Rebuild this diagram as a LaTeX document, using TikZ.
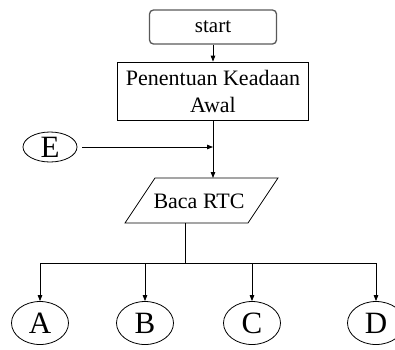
\documentclass[tikz,border=0pt]{standalone}
\usepackage{fontspec}
\setmainfont{Liberation Serif}
\usetikzlibrary{arrows.meta,shapes.geometric}
\begin{document}
\begin{tikzpicture}[x=1pt,y=-1pt,
  conn/.style={line width=0.8pt,draw=black},
  arr/.style={conn,-{Triangle[length=6pt,width=4.5pt]}},
  termbox/.style={draw=black!65,line width=1.3pt,rounded corners=4pt,minimum width=127pt,minimum height=34pt,inner sep=0pt,font=\fontsize{21}{24}\selectfont},
  procbox/.style={draw=black,line width=0.8pt,minimum width=191pt,minimum height=58pt,inner sep=0pt,align=center,font=\fontsize{22}{27}\selectfont},
  conn-oval/.style={draw=black,line width=0.8pt,ellipse,inner sep=0pt,font=\fontsize{31}{32}\selectfont},
  small-oval/.style={conn-oval,minimum width=54pt,minimum height=30pt},
  big-oval/.style={conn-oval,minimum width=57pt,minimum height=43pt}
]
\useasboundingbox (0,0) rectangle (395,349);
\clip (0,0) rectangle (395,349);
\node[termbox] (start) at (213,27) {start};
\node[procbox] (init) at (213,91) {Penentuan Keadaan\\Awal};
\node[small-oval] (E) at (50,147) {E};
\draw[line width=0.8pt] (155,178) -- (278,178) -- (248,223) -- (125,223) -- cycle;
\node[inner sep=0pt,font=\fontsize{22}{24}\selectfont] (baca) at (199,201) {Baca RTC};
\coordinate (bacatop) at (213,178);
\coordinate (bacabot) at (185,223);
\coordinate (join) at (213,147);
\coordinate (split) at (185,263);
\node[big-oval] (A) at (40,323) {A};
\node[big-oval] (B) at (145,323) {B};
\node[big-oval] (C) at (252,323) {C};
\node[big-oval] (D) at (376,323) {D};
\draw[arr] (start.south) -- (init.north);
\draw[arr] (init.south) -- (bacatop);
\draw[arr,shorten <=5pt] (E.east) -- (join);
\draw[conn] (bacabot) -- (split);
\draw[conn] (A.north |- split) -- (D.north |- split);
\foreach \n in {A,B,C,D} \draw[arr] (\n.north |- split) -- (\n.north);
\end{tikzpicture}
\end{document}
